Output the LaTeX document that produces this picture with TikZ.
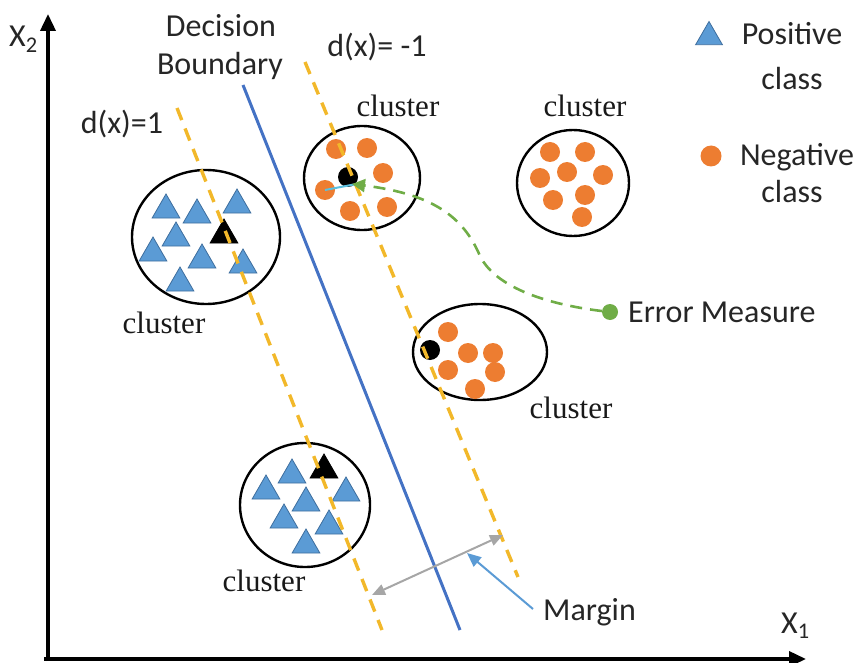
\documentclass[tikz,border=0pt]{standalone}
\usepackage{fontspec}
\setmainfont{Liberation Serif}
\newfontfamily\calfont{Carlito}
\usetikzlibrary{arrows.meta,shapes.geometric}
\definecolor{bndblue}{HTML}{4472C4}
\definecolor{goldline}{HTML}{F2B82A}
\definecolor{dotorange}{HTML}{ED7D31}
\definecolor{triblue}{HTML}{5B9BD5}
\definecolor{triedge}{HTML}{3E6E9E}
\definecolor{margray}{HTML}{A6A6A6}
\definecolor{errgreen}{HTML}{70AD47}
\definecolor{ptrblue}{HTML}{5B9BD5}
\definecolor{cyanline}{HTML}{5BC0E0}
\definecolor{textgray}{HTML}{262626}
\begin{document}
\begin{tikzpicture}[x=1pt,y=-1pt,
  clus/.style={ellipse, draw=black, line width=2.4pt, inner sep=0pt},
  tri/.style={regular polygon, regular polygon sides=3, minimum size=32pt, inner sep=0pt, fill=triblue, draw=triedge, line width=0.8pt},
  btri/.style={tri, fill=black, draw=black},
  dot/.style={circle, minimum size=20pt, inner sep=0pt, fill=dotorange},
  bdot/.style={dot, fill=black},
  lbl/.style={font=\calfont\fontsize{32}{38}\selectfont, inner sep=0pt, text=textgray},
  clbl/.style={font=\fontsize{31}{36}\selectfont, inner sep=0pt, text=black!90},
  ydash/.style={draw=goldline, line width=3.4pt, dash pattern=on 13pt off 9pt},
  axisline/.style={draw=black, line width=3.6pt, -{Triangle[length=17pt,width=15pt]}}
]
\path[use as bounding box] (0,0) rectangle (864,663);

% axes
\coordinate (origin) at (48,659);
\coordinate (ytip) at (48,14);
\coordinate (xtip) at (806,659);
\draw[axisline] (48,661) -- (ytip);
\draw[axisline] (44,659) -- (xtip);
\node[lbl, anchor=base west] (xtwo) at (9,47) {X\textsubscript{2}};
\node[lbl, anchor=base west] (xone) at (781,633) {X\textsubscript{1}};

% cluster A (positive, left)
\node[clus, minimum width=148pt, minimum height=134pt] (cA) at (206,237) {};
\node[tri] (a1) at (166,210) {};
\node[tri] (a2) at (197,215) {};
\node[tri] (a3) at (237,205) {};
\node[tri] (a4) at (176,238) {};
\node[btri] (a5) at (224,235) {};
\node[tri] (a6) at (153,253) {};
\node[tri] (a7) at (202,260) {};
\node[tri] (a8) at (243,265) {};
\node[tri] (a9) at (180,283) {};
\node[clbl, anchor=base] (lA) at (164,333) {cluster};

% cluster B (positive, bottom)
\node[clus, minimum width=130pt, minimum height=124pt] (cB) at (305,505) {};
\node[btri] (b1) at (324,470) {};
\node[tri] (b2) at (292,475) {};
\node[tri] (b3) at (266,491) {};
\node[tri] (b4) at (306,503) {};
\node[tri] (b5) at (346,493) {};
\node[tri] (b6) at (284,520) {};
\node[tri] (b7) at (329,526) {};
\node[tri] (b8) at (306,545) {};
\node[clbl, anchor=base] (lB) at (264,591) {cluster};

% cluster C (negative, top middle)
\node[clus, minimum width=116pt, minimum height=104pt] (cC) at (362,178) {};
\node[dot] (c1) at (336,149) {};
\node[dot] (c2) at (367,148) {};
\node[dot] (c3) at (383,173) {};
\node[bdot] (c4) at (348,177) {};
\node[dot] (c5) at (325,190) {};
\node[dot] (c6) at (350,211) {};
\node[dot] (c7) at (387,207) {};
\node[clbl, anchor=base] (lC) at (398,117) {cluster};

% cluster D (negative, top right)
\node[clus, minimum width=112pt, minimum height=106pt] (cD) at (573,183) {};
\node[dot] (d1) at (550,152) {};
\node[dot] (d2) at (585,152) {};
\node[dot] (d3) at (540,178) {};
\node[dot] (d4) at (567,172) {};
\node[dot] (d5) at (603,175) {};
\node[dot] (d6) at (553,200) {};
\node[dot] (d7) at (585,195) {};
\node[dot] (d8) at (582,217) {};
\node[clbl, anchor=base] (lD) at (585,117) {cluster};

% cluster E (negative, middle right)
\node[clus, minimum width=134pt, minimum height=96pt] (cE) at (480,352) {};
\node[bdot] (e1) at (430,350) {};
\node[dot] (e2) at (448,332) {};
\node[dot] (e3) at (468,353) {};
\node[dot] (e4) at (493,353) {};
\node[dot] (e5) at (448,370) {};
\node[dot] (e6) at (495,372) {};
\node[dot] (e7) at (475,389) {};
\node[clbl, anchor=base] (lE) at (571,418) {cluster};

% margin lines and decision boundary
\coordinate (pTop) at (177,108);
\coordinate (pBot) at (382,630);
\coordinate (nTop) at (305,62);
\coordinate (nBot) at (518,577);
\coordinate (bTop) at (243,85);
\coordinate (bBot) at (460,630);
\draw[ydash] (pTop) -- (pBot);
\draw[ydash] (nTop) -- (nBot);
\draw[draw=bndblue, line width=3pt] (bTop) -- (bBot);

\node[lbl, anchor=base] (dec1) at (221,37) {Decision};
\node[lbl, anchor=base] (dec2) at (220,75) {Boundary};
\node[lbl, anchor=base] (dpos) at (122,134) {d(x)=1};
\node[lbl, anchor=base] (dneg) at (377,57) {d(x)= -1};

% margin arrow
\coordinate (mL) at (372,595);
\coordinate (mR) at (503,535);
\draw[draw=margray, line width=2pt, {Triangle[length=13pt,width=11pt]}-{Triangle[length=13pt,width=11pt]}] (mL) -- (mR);
\coordinate (ptrTail) at (533,609);
\coordinate (ptrTip) at (467,553);
\draw[draw=ptrblue, line width=2pt, -{Triangle[length=14pt,width=12pt]}] (ptrTail) -- (ptrTip);
\node[lbl, anchor=base west] (margin) at (543,620) {Margin};

% error measure
\draw[draw=cyanline, line width=2pt] (c5.center) -- (c4.south east);
\node[circle, fill=errgreen, minimum size=16pt, inner sep=0pt] (err) at (610,312) {};
\coordinate (errTip) at (352,184);
\draw[draw=errgreen, line width=2.6pt, dash pattern=on 12pt off 8pt, -{Triangle[length=13pt,width=13pt]}]
  (err) .. controls (560,306) and (498,292) .. (480,256)
        .. controls (463,216) and (432,194) .. (errTip);
\node[lbl, anchor=base west] (errl) at (628,322) {Error Measure};

% legend
\node[tri, minimum size=31pt] (legtri) at (709,37) {};
\node[lbl, anchor=base] (pos1) at (792,45) {Positive};
\node[lbl, anchor=base] (pos2) at (792,90) {class};
\node[dot, minimum size=21pt] (legdot) at (711,156) {};
\node[lbl, anchor=base] (neg1) at (797,166) {Negative};
\node[lbl, anchor=base] (neg2) at (792,202) {class};
\end{tikzpicture}
\end{document}
